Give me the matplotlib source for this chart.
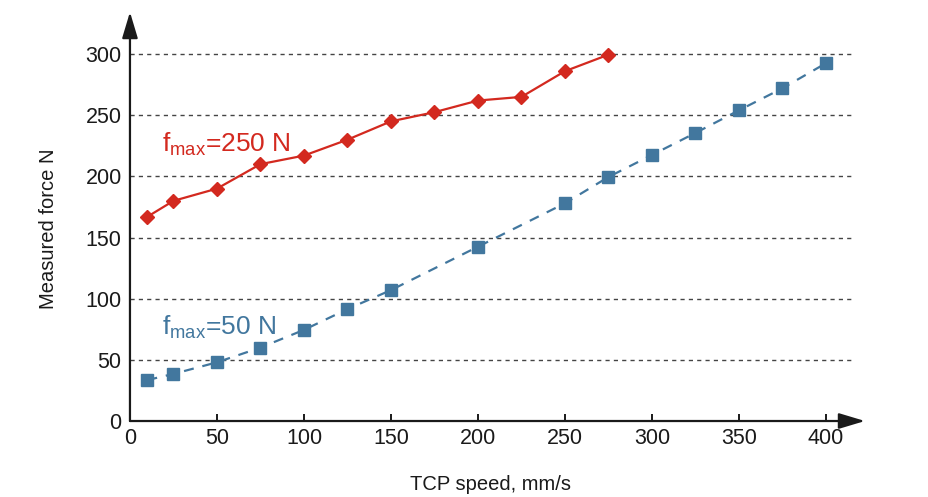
import matplotlib.pyplot as plt

plt.rcParams["font.family"] = ["Liberation Sans", "DejaVu Sans"]
plt.rcParams["mathtext.default"] = "regular"

speed_250 = [10, 25, 50, 75, 100, 125, 150, 175, 200, 225, 250, 275]
force_250 = [167, 180, 190, 210, 217, 230, 245, 252.5, 262, 265, 286, 299.5]
speed_50 = [10, 25, 50, 75, 100, 125, 150, 200, 250, 275, 300, 325, 350, 375, 400]
force_50 = [33.5, 38.5, 48, 60, 74.5, 91.5, 107, 142.5, 178, 199.5, 217.5, 235.5, 254, 272, 292.5]

red = "#d3291f"
blue = "#42779e"

fig = plt.figure(figsize=(9.29, 4.97), dpi=100)
ax = fig.add_axes([0.1399, 0.1529, 0.7772, 0.7752])

ax.plot(speed_250, force_250, color=red, lw=1.6, marker="D", ms=7, zorder=3)
ax.plot(speed_50, force_50, color=blue, lw=1.6, ls=(0, (4.5, 4)), marker="s", ms=9,
        zorder=3)

ax.text(18.5, 220, "f$_{max}$=250 N", color=red, fontsize=19, ha="left", va="baseline")
ax.text(18.5, 70.5, "f$_{max}$=50 N", color=blue, fontsize=19, ha="left", va="baseline")

ax.set_xlim(0, 415)
ax.set_ylim(0, 315)
ax.set_xticks(range(0, 401, 50))
ax.set_yticks(range(0, 301, 50))

ax.yaxis.grid(True, color="#444444", lw=1, ls=(0, (3, 3)))
ax.set_axisbelow(True)

for side in ["top", "right", "left", "bottom"]:
    ax.spines[side].set_visible(False)

# axes with arrow heads
arrow = dict(arrowstyle="-|>,head_length=1.6,head_width=0.48", color="#1a1a1a",
             lw=1.6, mutation_scale=10, shrinkA=0, shrinkB=0)
ax.annotate("", xy=(1.018, 0), xytext=(0, 0), xycoords="axes fraction",
            arrowprops=arrow, annotation_clip=False)
ax.annotate("", xy=(0, 1.0615), xytext=(0, 0), xycoords="axes fraction",
            arrowprops=arrow, annotation_clip=False)

ax.tick_params(axis="x", direction="in", length=5, width=1.4, color="#1a1a1a",
               labelsize=15.5, pad=5)
ax.tick_params(axis="y", length=0, labelsize=15.5, pad=6)
for lab in ax.get_xticklabels() + ax.get_yticklabels():
    lab.set_color("#1a1a1a")

ax.set_xlabel("TCP speed, mm/s", fontsize=14.5, labelpad=19, color="#1a1a1a")
ax.set_ylabel("Measured force N", fontsize=14.5, labelpad=20, color="#1a1a1a")

fig.savefig("out.png", dpi=100)
